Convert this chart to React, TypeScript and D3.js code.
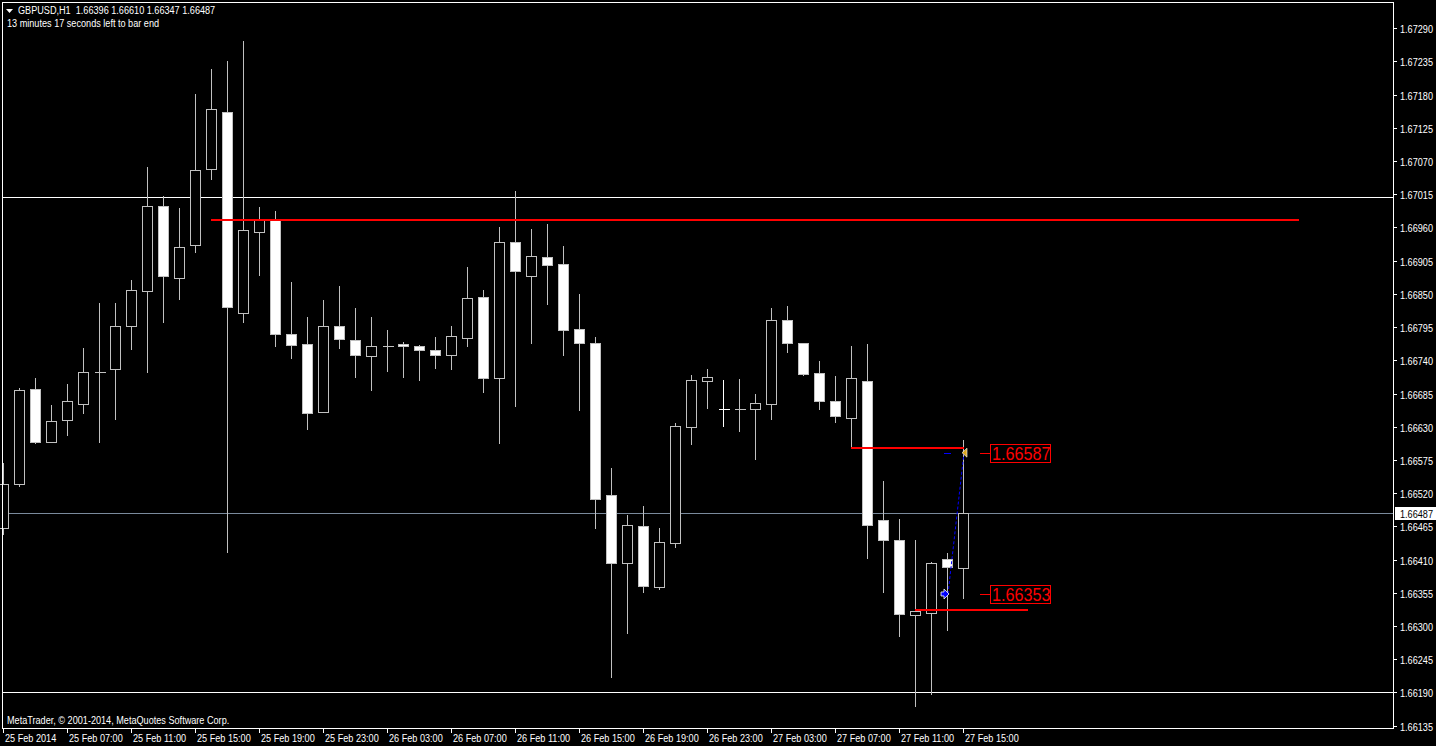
import React, { useRef, useEffect } from 'react';
import * as d3 from 'd3';

// bar times (every 4th bar gets a label, bar 0 = 25 Feb 03:00)
const timeLabels = [
  '25 Feb 2014', '25 Feb 07:00', '25 Feb 11:00', '25 Feb 15:00',
  '25 Feb 19:00', '25 Feb 23:00', '26 Feb 03:00', '26 Feb 07:00',
  '26 Feb 11:00', '26 Feb 15:00', '26 Feb 19:00', '26 Feb 23:00',
  '27 Feb 03:00', '27 Feb 07:00', '27 Feb 11:00', '27 Feb 15:00',
];

const opens = [
  1.66462, 1.66535, 1.66692, 1.66604, 1.66641, 1.66668, 1.6672, 1.66725, 1.66796, 1.66855,
  1.66995, 1.66876, 1.66931, 1.67057, 1.67152, 1.66818, 1.66952, 1.66973, 1.66783, 1.66767,
  1.66654, 1.66797, 1.66773, 1.66747, 1.66764, 1.66767, 1.66763, 1.66757, 1.66749, 1.66777,
  1.66845, 1.6671, 1.66936, 1.66879, 1.66911, 1.66899, 1.66792, 1.66768, 1.66517, 1.66405,
  1.66465, 1.66365, 1.66437, 1.6663, 1.66706, 1.66659, 1.6666, 1.66659, 1.66668, 1.66807,
  1.66768, 1.66719, 1.66672, 1.66645, 1.66706, 1.66476, 1.66442, 1.66318, 1.66321, 1.66411,
  1.66396,
];
const highs = [
  1.66572, 1.66696, 1.66712, 1.66668, 1.66702, 1.66762, 1.66837, 1.66837, 1.66875, 1.67062,
  1.67014, 1.66994, 1.67183, 1.67224, 1.67237, 1.67271, 1.66996, 1.66989, 1.66872, 1.66814,
  1.66842, 1.66865, 1.66829, 1.66814, 1.66792, 1.66772, 1.66767, 1.6678, 1.66799, 1.66896,
  1.66858, 1.66963, 1.67022, 1.66959, 1.66968, 1.66931, 1.66852, 1.6678, 1.66564, 1.66486,
  1.66501, 1.66464, 1.66638, 1.66718, 1.66728, 1.66709, 1.66711, 1.66686, 1.66829, 1.66832,
  1.66771, 1.66741, 1.66716, 1.66766, 1.66769, 1.66542, 1.66479, 1.66444, 1.66407, 1.66422,
  1.6661,
];
const lows = [
  1.66453, 1.66531, 1.66603, 1.66604, 1.66617, 1.66652, 1.66605, 1.66642, 1.66758, 1.66721,
  1.66804, 1.66842, 1.6692, 1.67041, 1.66423, 1.66804, 1.66882, 1.66763, 1.66743, 1.66627,
  1.66654, 1.66761, 1.66713, 1.6669, 1.66723, 1.66713, 1.66708, 1.66728, 1.66725, 1.66763,
  1.66688, 1.66603, 1.66665, 1.66768, 1.66834, 1.66748, 1.66657, 1.66463, 1.66216, 1.66289,
  1.66357, 1.66362, 1.6643, 1.66602, 1.66661, 1.66631, 1.66623, 1.66577, 1.66643, 1.66753,
  1.66715, 1.6666, 1.66637, 1.66595, 1.66413, 1.66357, 1.66283, 1.66167, 1.66188, 1.66293,
  1.66347,
];
const closes = [
  1.66535, 1.6669, 1.66604, 1.66639, 1.66672, 1.6672, 1.6672, 1.66796, 1.66856, 1.66995,
  1.66879, 1.66927, 1.67055, 1.67156, 1.66829, 1.66955, 1.66972, 1.66783, 1.66765, 1.66653,
  1.66797, 1.66775, 1.66749, 1.66763, 1.66764, 1.66763, 1.66757, 1.66749, 1.6678, 1.66843,
  1.6671, 1.66936, 1.66888, 1.66913, 1.66898, 1.66791, 1.66768, 1.6651, 1.66405, 1.66467,
  1.66367, 1.66439, 1.66631, 1.66707, 1.66712, 1.66659, 1.6666, 1.66669, 1.66807, 1.66768,
  1.66718, 1.66673, 1.66647, 1.6671, 1.66468, 1.66442, 1.6632, 1.66325, 1.66404, 1.66398,
  1.66487,
];

const priceTicks = [
  1.6729, 1.67235, 1.6718, 1.67125, 1.6707, 1.67015, 1.6696, 1.66905, 1.6685, 1.66795, 1.6674,
  1.66685, 1.6663, 1.66575, 1.6652, 1.66465, 1.6641, 1.66355, 1.663, 1.66245, 1.6619, 1.66135,
];

const whiteLevels = [1.67011, 1.66191];
const bidPrice = 1.66487;
const trendBars = [13, 81];
const trendPrice = 1.66973;
const redBars = [[53, 60], [57, 64]];
const redPrices = [1.66595, 1.66326];
const tradeBars = [59, 60];
const tradePrices = [1.66353, 1.66587];
const labelPrices = [1.66587, 1.66353];

const header = 'GBPUSD,H1\u00a0\u00a01.66396 1.66610 1.66347 1.66487';
const subHeader = '13 minutes 17 seconds left to bar end';
const copyright = 'MetaTrader, \u00a9 2001-2014, MetaQuotes Software Corp.';

export default function App() {
  const svgRef = useRef(null);

  useEffect(() => {
    document.body.style.margin = '0';
    document.body.style.background = '#000';
    const w = 1436;
    const h = 746;
    const svg = d3.select(svgRef.current);
    svg.selectAll('*').remove();
    svg.attr('width', w).attr('height', h).style('display', 'block').style('background', '#000');

    const font = 'Liberation Sans, Arial, sans-serif';
    const txt = (x, y, s, color = '#fff', size = 11, sx = 0.83) =>
      svg
        .append('text')
        .attr('transform', `translate(${x},${y}) scale(${sx},1)`)
        .attr('fill', color)
        .attr('font-family', font)
        .attr('font-size', size)
        .text(s);

    // scales
    const xScale = d3.scaleLinear().domain([0, 60]).range([3, 963]);
    const yScale = d3.scaleLinear().domain([1.66135, 1.6729]).range([725.6, 28.2]);
    const px = (k) => Math.round(xScale(k)) + 0.5;
    const py = (p) => Math.round(yScale(p)) + 0.5;

    svg.append('rect').attr('width', w).attr('height', h).attr('fill', '#000');

    const g = svg.append('g').attr('shape-rendering', 'crispEdges');

    // horizontal levels
    whiteLevels.forEach((p) => {
      g.append('line')
        .attr('x1', 2).attr('x2', 1393)
        .attr('y1', py(p)).attr('y2', py(p))
        .attr('stroke', '#fff');
    });
    g.append('line')
      .attr('x1', 2).attr('x2', 1393)
      .attr('y1', py(bidPrice)).attr('y2', py(bidPrice))
      .attr('stroke', '#7a8a9c');

    // candles
    opens.forEach((o, i) => {
      const c = closes[i];
      const xc = px(i);
      g.append('line')
        .attr('x1', xc).attr('x2', xc)
        .attr('y1', py(highs[i])).attr('y2', py(lows[i]))
        .attr('stroke', '#c0c0c0');
      if (o === c) {
        g.append('line')
          .attr('x1', xc - 5).attr('x2', xc + 6)
          .attr('y1', py(o)).attr('y2', py(o))
          .attr('stroke', i === 45 ? '#fff' : '#c0c0c0');
        if (i === 45) {
          g.append('line')
            .attr('x1', xc).attr('x2', xc)
            .attr('y1', py(highs[i])).attr('y2', py(lows[i]))
            .attr('stroke', '#fff');
        }
        return;
      }
      const top = py(Math.max(o, c));
      const bot = py(Math.min(o, c));
      g.append('rect')
        .attr('x', xc - 5).attr('y', top)
        .attr('width', 10).attr('height', Math.max(bot - top, 1))
        .attr('fill', c > o ? '#000' : '#fff')
        .attr('stroke', '#c0c0c0');
    });

    // red trend / level lines
    g.append('line')
      .attr('x1', xScale(trendBars[0])).attr('x2', xScale(trendBars[1]))
      .attr('y1', Math.round(yScale(trendPrice))).attr('y2', Math.round(yScale(trendPrice)))
      .attr('stroke', '#ff0000').attr('stroke-width', 2);
    redBars.forEach((b, i) => {
      g.append('line')
        .attr('x1', xScale(b[0])).attr('x2', xScale(b[1]) + 1)
        .attr('y1', Math.round(yScale(redPrices[i]))).attr('y2', Math.round(yScale(redPrices[i])))
        .attr('stroke', '#ff0000').attr('stroke-width', 2);
    });

    // trade: dotted line from open arrow to close marker
    const tx0 = xScale(tradeBars[0]) + 1;
    const ty0 = yScale(tradePrices[0]);
    const tx1 = xScale(tradeBars[1]) + 1;
    const ty1 = yScale(tradePrices[1]);
    svg.append('line')
      .attr('x1', tx0).attr('y1', ty0).attr('x2', tx1).attr('y2', ty1)
      .attr('stroke', '#0000ff').attr('stroke-dasharray', '3,2');
    svg.append('line')
      .attr('x1', xScale(tradeBars[0]) - 3).attr('x2', xScale(tradeBars[0]) + 4)
      .attr('y1', Math.round(ty1) + 0.5).attr('y2', Math.round(ty1) + 0.5)
      .attr('stroke', '#0000ff');
    svg.append('path')
      .attr('d', `M${tx0 - 7},${ty0 - 2} h3 v-3 l5,5 l-5,5 v-3 h-3 z`)
      .attr('fill', '#0000ff').attr('stroke', '#fff').attr('stroke-width', 0.8);
    svg.append('path')
      .attr('d', `M${tx1 - 2},${ty1} l5,-4.5 v9 z`)
      .attr('fill', '#daa520').attr('stroke', '#fff').attr('stroke-width', 0.6);

    // price labels with red box
    labelPrices.forEach((p) => {
      const y = Math.round(yScale(p)) + 0.5;
      const x0 = Math.round(xScale(61));
      svg.append('line')
        .attr('x1', x0 + 1).attr('x2', x0 + 11)
        .attr('y1', y).attr('y2', y)
        .attr('stroke', '#ff0000');
      svg.append('rect')
        .attr('x', x0 + 11.5).attr('y', y - 9.5)
        .attr('width', 60).attr('height', 18)
        .attr('fill', '#000').attr('stroke', '#ff0000')
        .attr('shape-rendering', 'crispEdges');
      txt(x0 + 13, y + 6.5, d3.format('.5f')(p), '#ff0000', 18, 0.9);
    });

    // frame
    g.append('rect')
      .attr('x', 2.5).attr('y', 2.5)
      .attr('width', 1391).attr('height', 726)
      .attr('fill', 'none').attr('stroke', '#fff');

    // price axis
    priceTicks.forEach((p) => {
      const y = Math.round(yScale(p)) + 0.5;
      g.append('line').attr('x1', 1394).attr('x2', 1397).attr('y1', y).attr('y2', y).attr('stroke', '#fff');
      txt(1400, y + 4, d3.format('.5f')(p));
    });
    const by = Math.round(yScale(bidPrice));
    g.append('rect')
      .attr('x', 1395).attr('y', by - 6)
      .attr('width', 41).attr('height', 13)
      .attr('fill', '#fff');
    txt(1400, by + 4.5, d3.format('.5f')(bidPrice), '#000');

    // time axis
    timeLabels.forEach((s, i) => {
      const x = px(i * 4);
      g.append('line').attr('x1', x).attr('x2', x).attr('y1', 729).attr('y2', 733).attr('stroke', '#fff');
      txt(x + 1.5, 741.5, s);
    });

    // header / footer
    svg.append('path').attr('d', 'M6,9 L13,9 L9.5,13 Z').attr('fill', '#fff');
    txt(18, 14, header);
    txt(7, 27, subHeader);
    txt(7, 724, copyright);
  }, []);

  return <svg ref={svgRef}></svg>;
}
